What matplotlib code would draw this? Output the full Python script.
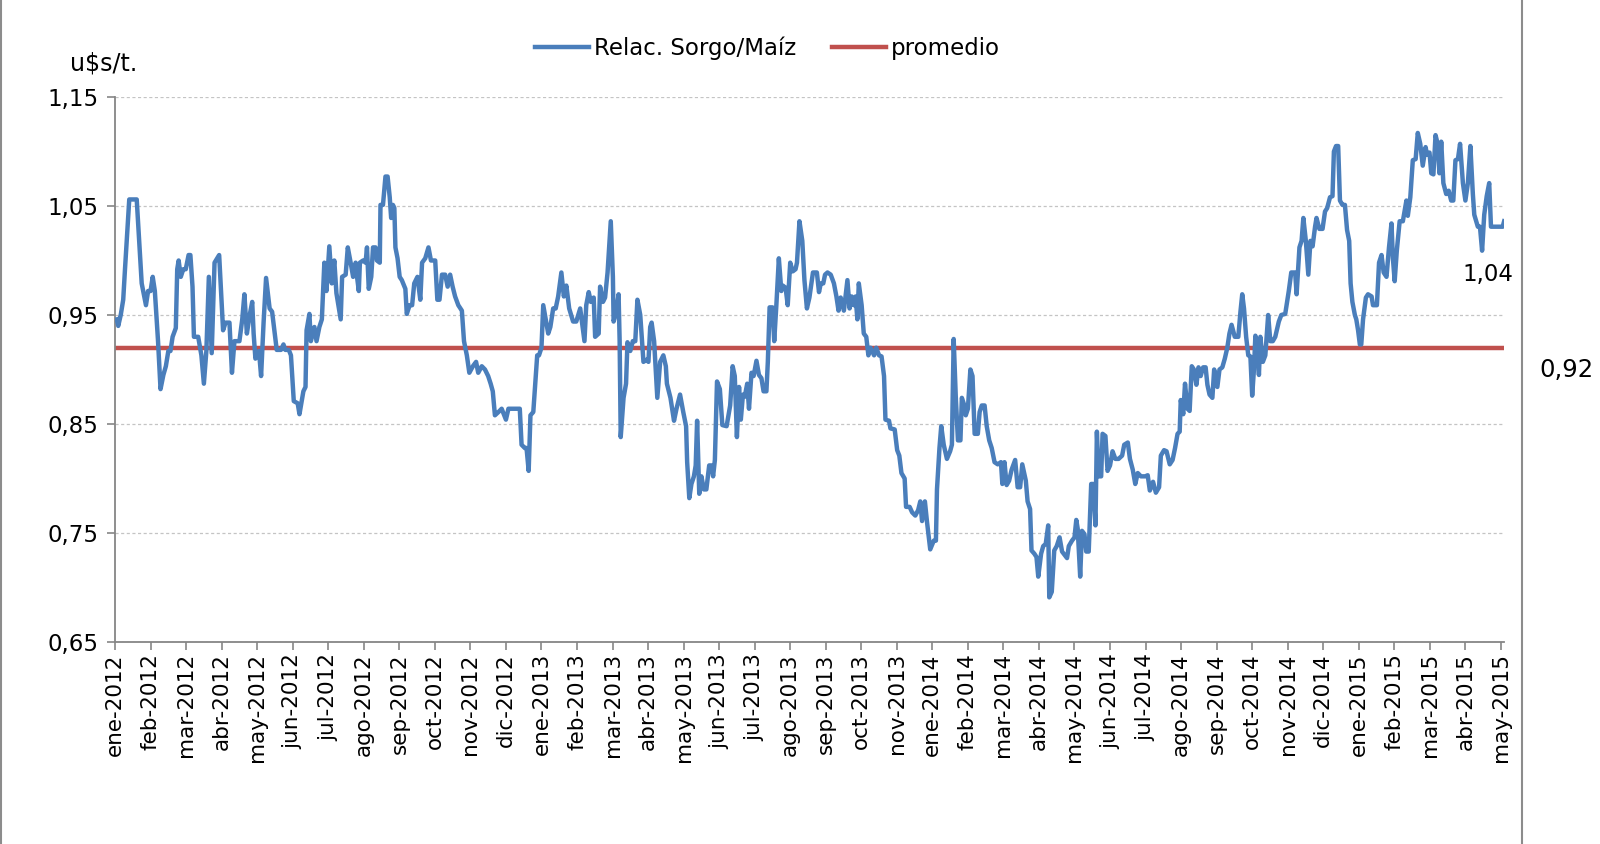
import matplotlib
matplotlib.use("Agg")
import matplotlib.pyplot as plt
import numpy as np
from matplotlib.lines import Line2D

plt.rcParams['font.family'] = ['DejaVu Sans']

# posicion en meses desde ene-2012 (0 = ene-2012, 39 = may-2015)
meses = [
    0.05, 0.09, 0.16, 0.23, 0.28, 0.40, 0.61, 0.68, 0.75, 0.87,
    0.93, 1.00, 1.06, 1.12, 1.21, 1.28, 1.36, 1.43, 1.50, 1.56,
    1.62, 1.71, 1.75, 1.79, 1.85, 1.92, 1.99, 2.07, 2.12, 2.18,
    2.22, 2.34, 2.43, 2.50, 2.57, 2.64, 2.72, 2.80, 2.93, 3.04,
    3.11, 3.22, 3.29, 3.36, 3.50, 3.58, 3.64, 3.71, 3.79, 3.86,
    3.90, 3.95, 4.05, 4.11, 4.18, 4.25, 4.35, 4.42, 4.55, 4.67,
    4.74, 4.79, 4.89, 4.95, 5.03, 5.14, 5.19, 5.30, 5.36, 5.39,
    5.47, 5.51, 5.61, 5.67, 5.75, 5.82, 5.89, 5.95, 6.03, 6.10,
    6.17, 6.23, 6.35, 6.39, 6.49, 6.55, 6.63, 6.70, 6.77, 6.81,
    6.86, 6.89, 6.98, 7.05, 7.09, 7.14, 7.21, 7.26, 7.33, 7.37,
    7.45, 7.47, 7.54, 7.61, 7.67, 7.73, 7.77, 7.82, 7.86, 7.89,
    7.95, 8.01, 8.07, 8.17, 8.21, 8.29, 8.36, 8.42, 8.51, 8.59,
    8.64, 8.73, 8.82, 8.89, 9.01, 9.07, 9.13, 9.20, 9.29, 9.36,
    9.43, 9.50, 9.57, 9.66, 9.76, 9.82, 9.90, 9.97, 10.07, 10.16,
    10.22, 10.32, 10.41, 10.50, 10.57, 10.63, 10.69, 10.79, 10.88, 11.00,
    11.07, 11.21, 11.39, 11.44, 11.53, 11.58, 11.64, 11.69, 11.77, 11.88,
    11.93, 12.00, 12.05, 12.12, 12.19, 12.25, 12.33, 12.40, 12.47, 12.56,
    12.63, 12.70, 12.78, 12.89, 12.98, 13.09, 13.21, 13.26, 13.33, 13.39,
    13.47, 13.51, 13.61, 13.65, 13.73, 13.79, 13.86, 13.95, 14.01, 14.03,
    14.10, 14.17, 14.20, 14.23, 14.31, 14.38, 14.42, 14.50, 14.57, 14.64,
    14.70, 14.78, 14.87, 14.96, 15.01, 15.06, 15.10, 15.17, 15.26, 15.34,
    15.43, 15.50, 15.53, 15.63, 15.73, 15.80, 15.90, 15.99, 16.07, 16.10,
    16.16, 16.22, 16.29, 16.34, 16.38, 16.44, 16.50, 16.57, 16.64, 16.72,
    16.79, 16.83, 16.88, 16.94, 17.02, 17.09, 17.21, 17.31, 17.38, 17.44,
    17.50, 17.56, 17.61, 17.67, 17.72, 17.79, 17.84, 17.91, 17.97, 18.05,
    18.12, 18.19, 18.25, 18.33, 18.37, 18.42, 18.50, 18.55, 18.61, 18.68,
    18.75, 18.79, 18.87, 18.93, 19.00, 19.07, 19.15, 19.19, 19.26, 19.34,
    19.40, 19.47, 19.54, 19.64, 19.75, 19.81, 19.86, 19.93, 19.98, 20.05,
    20.14, 20.23, 20.30, 20.36, 20.42, 20.51, 20.61, 20.67, 20.73, 20.79,
    20.84, 20.89, 20.93, 21.01, 21.07, 21.14, 21.20, 21.26, 21.36, 21.42,
    21.50, 21.57, 21.64, 21.68, 21.78, 21.82, 21.94, 22.01, 22.07, 22.13,
    22.22, 22.26, 22.36, 22.43, 22.52, 22.60, 22.66, 22.71, 22.79, 22.85,
    22.94, 23.04, 23.10, 23.13, 23.20, 23.25, 23.32, 23.41, 23.50, 23.55,
    23.60, 23.66, 23.72, 23.79, 23.83, 23.90, 23.94, 24.00, 24.07, 24.13,
    24.19, 24.28, 24.33, 24.39, 24.47, 24.53, 24.60, 24.67, 24.75, 24.84,
    24.93, 24.97, 25.03, 25.09, 25.16, 25.23, 25.33, 25.40, 25.47, 25.53,
    25.63, 25.68, 25.75, 25.79, 25.87, 25.93, 25.98, 26.06, 26.12, 26.19,
    26.26, 26.29, 26.36, 26.43, 26.50, 26.58, 26.65, 26.72, 26.79, 26.84,
    26.93, 27.00, 27.05, 27.09, 27.16, 27.21, 27.28, 27.33, 27.40, 27.47,
    27.53, 27.59, 27.63, 27.68, 27.75, 27.79, 27.87, 27.93, 28.00, 28.07,
    28.15, 28.24, 28.34, 28.40, 28.50, 28.56, 28.64, 28.71, 28.78, 28.87,
    28.99, 29.06, 29.12, 29.21, 29.29, 29.38, 29.43, 29.52, 29.59, 29.68,
    29.76, 29.83, 29.90, 29.96, 29.99, 30.06, 30.11, 30.18, 30.24, 30.30,
    30.36, 30.43, 30.49, 30.55, 30.62, 30.69, 30.74, 30.80, 30.88, 30.93,
    31.02, 31.08, 31.16, 31.23, 31.30, 31.36, 31.42, 31.51, 31.61, 31.67,
    31.72, 31.77, 31.83, 31.89, 31.95, 32.00, 32.05, 32.09, 32.14, 32.19,
    32.23, 32.30, 32.37, 32.45, 32.51, 32.58, 32.65, 32.75, 32.82, 32.93,
    33.03, 33.10, 33.21, 33.25, 33.33, 33.39, 33.44, 33.51, 33.58, 33.64,
    33.70, 33.77, 33.81, 33.89, 33.98, 34.05, 34.11, 34.19, 34.26, 34.30,
    34.36, 34.42, 34.47, 34.54, 34.61, 34.67, 34.73, 34.77, 34.82, 34.89,
    34.93, 34.98, 35.03, 35.07, 35.12, 35.20, 35.26, 35.36, 35.40, 35.51,
    35.57, 35.64, 35.70, 35.78, 35.85, 35.92, 35.96, 36.01, 36.07, 36.15,
    36.24, 36.34, 36.38, 36.45, 36.52, 36.60, 36.66, 36.73, 36.80, 36.88,
    36.92, 36.99, 37.04, 37.10, 37.16, 37.22, 37.27, 37.32, 37.38, 37.46,
    37.53, 37.60, 37.66, 37.72, 37.79, 37.85, 37.93, 38.00, 38.07, 38.14,
    38.21, 38.25, 38.35, 38.41, 38.47, 38.53, 38.60, 38.67, 38.72, 38.79,
    38.91, 39.05, 39.09,
]

# relacion sorgo / maiz
relacion = [
    .946, .940, .950, .964, .992, 1.056, 1.056, 1.018, .979, .959,
    .972, .972, .985, .972, .926, .882, .895, .903, .917, .917,
    .930, .938, .992, 1.000, .985, .992, .992, 1.005, 1.005, .976,
    .930, .930, .913, .887, .917, .985, .915, .998, 1.005, .936,
    .943, .943, .897, .926, .926, .946, .969, .933, .950, .962,
    .933, .910, .917, .894, .943, .984, .956, .953, .918, .918,
    .923, .918, .918, .913, .871, .869, .859, .880, .884, .936,
    .951, .926, .939, .926, .939, .946, .998, .972, 1.013, .979,
    1.000, .970, .946, .985, .987, 1.012, .998, .985, .998, .985,
    .972, .998, 1.000, .998, 1.012, .974, .985, 1.012, 1.012, 1.000,
    .998, 1.051, 1.051, 1.077, 1.077, 1.058, 1.039, 1.051, 1.048, 1.012,
    1.002, .985, .982, .974, .951, .959, .959, .979, .985, .964,
    .998, 1.002, 1.012, 1.000, 1.000, .964, .964, .987, .987, .976,
    .987, .976, .967, .959, .954, .926, .913, .897, .903, .907,
    .897, .903, .900, .894, .887, .880, .858, .861, .864, .854,
    .864, .864, .864, .831, .828, .828, .807, .858, .861, .913,
    .913, .920, .959, .946, .933, .939, .956, .956, .967, .989,
    .967, .977, .956, .944, .944, .956, .926, .959, .971, .962,
    .966, .930, .933, .976, .962, .966, .989, 1.036, .985, .944,
    .952, .969, .926, .838, .874, .887, .925, .917, .926, .926,
    .964, .950, .907, .909, .907, .939, .943, .926, .874, .907,
    .913, .903, .887, .874, .853, .864, .877, .861, .848, .815,
    .782, .795, .802, .812, .853, .786, .802, .790, .790, .812,
    .812, .802, .817, .889, .882, .849, .848, .867, .903, .894,
    .838, .884, .854, .877, .875, .887, .864, .897, .894, .908,
    .895, .892, .880, .880, .907, .957, .957, .926, .959, 1.002,
    .972, .977, .975, .959, .998, .990, .992, .998, 1.036, 1.018,
    .982, .956, .966, .989, .989, .971, .979, .979, .987, .989,
    .987, .979, .967, .954, .966, .954, .982, .956, .967, .959,
    .967, .946, .979, .959, .933, .930, .913, .920, .913, .920,
    .913, .912, .894, .854, .853, .846, .845, .826, .821, .805,
    .800, .774, .774, .769, .766, .771, .779, .761, .779, .760,
    .735, .743, .743, .790, .828, .848, .831, .818, .825, .831,
    .928, .874, .835, .835, .874, .867, .858, .864, .900, .894,
    .841, .841, .861, .867, .867, .848, .835, .828, .815, .813,
    .815, .795, .815, .794, .798, .808, .817, .792, .792, .813,
    .798, .779, .772, .734, .731, .728, .710, .731, .738, .740,
    .757, .691, .696, .734, .738, .746, .733, .730, .727, .738,
    .743, .746, .762, .754, .710, .752, .749, .733, .733, .795,
    .795, .757, .843, .802, .802, .841, .839, .807, .812, .825,
    .818, .818, .821, .831, .833, .818, .808, .795, .805, .802,
    .802, .803, .789, .797, .787, .792, .821, .826, .825, .813,
    .817, .828, .841, .843, .872, .859, .887, .864, .862, .903,
    .900, .886, .902, .894, .902, .902, .886, .877, .874, .900,
    .884, .900, .902, .910, .920, .933, .941, .930, .930, .953,
    .969, .956, .930, .913, .912, .876, .900, .931, .923, .895,
    .930, .907, .913, .950, .926, .926, .930, .944, .950, .951,
    .972, .989, .989, .969, 1.012, 1.018, 1.039, 1.018, .987, 1.018,
    1.013, 1.031, 1.039, 1.029, 1.029, 1.045, 1.048, 1.058, 1.059, 1.100,
    1.105, 1.105, 1.055, 1.051, 1.051, 1.028, 1.018, .979, .962, .950,
    .946, .936, .923, .923, .946, .966, .969, .967, .959, .959,
    .998, 1.005, .989, .985, 1.012, 1.034, 1.002, .981, 1.009, 1.036,
    1.036, 1.055, 1.041, 1.058, 1.092, 1.093, 1.117, 1.107, 1.087, 1.104,
    1.097, 1.099, 1.080, 1.079, 1.115, 1.107, 1.080, 1.109, 1.071, 1.061,
    1.064, 1.055, 1.055, 1.092, 1.093, 1.107, 1.071, 1.055, 1.071, 1.105,
    1.061, 1.042, 1.031, 1.031, 1.009, 1.042, 1.059, 1.071, 1.031, 1.031,
    1.031, 1.031, 1.036,
]

promedio = 0.92

etiquetas = ["ene-2012", "feb-2012", "mar-2012", "abr-2012", "may-2012", "jun-2012",
             "jul-2012", "ago-2012", "sep-2012", "oct-2012", "nov-2012", "dic-2012",
             "ene-2013", "feb-2013", "mar-2013", "abr-2013", "may-2013", "jun-2013",
             "jul-2013", "ago-2013", "sep-2013", "oct-2013", "nov-2013", "ene-2014",
             "feb-2014", "mar-2014", "abr-2014", "may-2014", "jun-2014", "jul-2014",
             "ago-2014", "sep-2014", "oct-2014", "nov-2014", "dic-2014", "ene-2015",
             "feb-2015", "mar-2015", "abr-2015", "may-2015"]

yticks = [0.65, 0.75, 0.85, 0.95, 1.05, 1.15]

assert len(meses) == len(relacion)

def coma(v):
    return f"{v:.2f}".replace(".", ",")

fig = plt.figure(figsize=(16, 8.44), dpi=100)
ax = fig.add_axes([0.0719, 0.2393, 0.8684, 0.6458])

azul = "#4A7EBB"
rojo = "#C0504D"
gris = "#868686"

ax.plot(meses, relacion, color=azul, lw=3.2, solid_joinstyle="round",
        label="Relac. Sorgo/Maíz", zorder=3)
ax.axhline(promedio, color=rojo, lw=3.2, label="promedio", zorder=2)

ax.set_xlim(0, 39.1)
ax.set_ylim(0.65, 1.15)

ax.set_yticks(yticks)
ax.set_yticklabels([coma(v) for v in yticks], fontsize=16.5)
ax.set_xticks(range(len(etiquetas)))
ax.set_xticklabels(etiquetas, rotation=90, fontsize=15.5)

ax.yaxis.grid(True, linestyle=(0, (2.5, 2)), color="#c4c4c4", lw=0.9)
ax.set_axisbelow(True)

ax.spines['right'].set_color('none')
ax.spines['top'].set_color('none')
ax.spines['left'].set_color(gris)
ax.spines['bottom'].set_color(gris)
ax.spines['left'].set_linewidth(1.3)
ax.spines['bottom'].set_linewidth(1.3)
ax.tick_params(axis='x', direction='out', length=6, width=1.2, color=gris, pad=2)
ax.tick_params(axis='y', direction='out', length=6, width=1.2, color=gris, pad=6)

# etiquetas de valores
ax.text(38.63, 0.987, coma(relacion[-1]), ha="center", va="center", fontsize=16.5)
ax.annotate(coma(promedio), xy=(1, promedio), xycoords=("axes fraction", "data"),
            xytext=(62, -22), textcoords="offset pixels",
            ha="center", va="center", fontsize=17.5, annotation_clip=False)

fig.text(104 / 1600, 1 - 64 / 844, "u$s/t.", ha="center", va="center", fontsize=17)

ax.legend(loc="center", bbox_to_anchor=(0.4797, 0.943), bbox_transform=fig.transFigure,
          ncol=2, frameon=False, fontsize=16.5, handlelength=2.35,
          handletextpad=0.22, columnspacing=1.6)

# marco del grafico
fig.add_artist(Line2D([0.0008, 0.0008], [0, 1], color="#8c8c8c", lw=1.5))
fig.add_artist(Line2D([1522 / 1600, 1522 / 1600], [0, 1], color="#8c8c8c", lw=1.5))

fig.savefig("out.png", dpi=100)
